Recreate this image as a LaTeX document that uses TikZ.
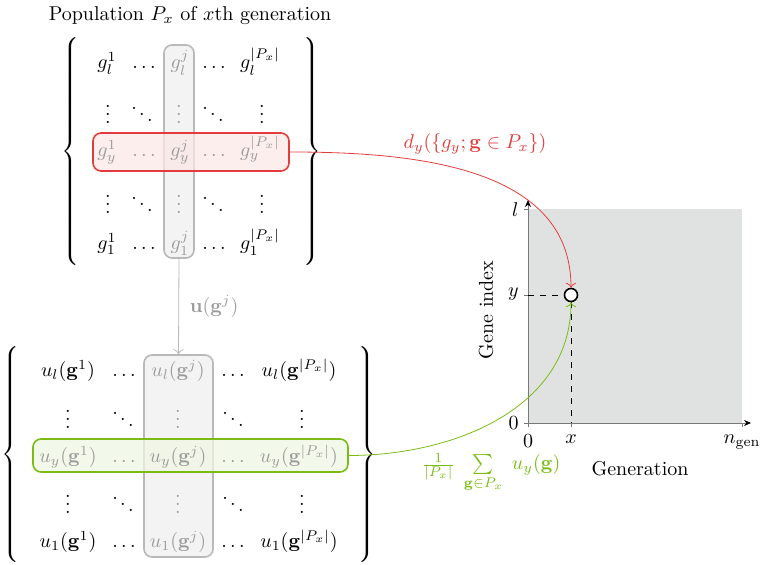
\documentclass[tikz,border=0pt]{standalone}
\usetikzlibrary{arrows.meta}
\definecolor{hlred}{RGB}{228,60,60}
\definecolor{hlgreen}{RGB}{122,188,20}
\definecolor{colline}{RGB}{185,185,185}
\definecolor{colfill}{RGB}{243,243,243}
\definecolor{hltext}{RGB}{155,155,155}
\definecolor{plotfill}{RGB}{224,226,226}
\definecolor{axiscol}{RGB}{120,120,120}
\begin{document}
\begin{tikzpicture}[x=0.5pt,y=-0.5pt,
  ent/.style={anchor=base,inner sep=0pt},
  hl/.style={anchor=base,inner sep=0pt,text=hltext},
  brace/.style={inner sep=0pt},
  colbox/.style={draw=colline,fill=colfill,line width=0.8pt,rounded corners=4pt},
  redbox/.style={draw=hlred,fill=hlred!12,fill opacity=0.75,line width=0.8pt,rounded corners=4pt},
  greenbox/.style={draw=hlgreen,fill=hlgreen!12,fill opacity=0.75,line width=0.8pt,rounded corners=4pt},
  tick/.style={axiscol,line width=0.4pt},
  ticklab/.style={inner sep=0pt}]
\useasboundingbox (0,0) rectangle (760,565);

% ---------- top matrix ----------
\node[ent] (title) at (190,21) {Population $P_x$ of $x$th generation};
\node[colbox,minimum width=15pt,minimum height=106.5pt] (tcol) at (179,151.5) {};
\node[redbox,minimum width=98pt,minimum height=19pt] (trow) at (191,152) {};

\node[brace] (tlb) at (72,152) {$\left\{\vcenter to 118pt{}\right.$};
\node[brace] (trb) at (311,152) {$\left.\vcenter to 118pt{}\right\}$};

\node[ent] (t11) at (107,69) {$g_l^1$};
\node[ent] (t12) at (144,69) {$\ldots$};
\node[hl]  (t13) at (180,69) {$g_l^j$};
\node[ent] (t14) at (214,69) {$\ldots$};
\node[ent] (t15) at (260,69) {$g_l^{|P_x|}$};

\node[ent] (t21) at (108,124) {$\vdots$};
\node[ent] (t22) at (142,124) {$\ddots$};
\node[hl]  (t23) at (179,124) {$\vdots$};
\node[ent] (t24) at (213,124) {$\ddots$};
\node[ent] (t25) at (262,124) {$\vdots$};

\node[hl] (t31) at (107,157) {$g_y^1$};
\node[hl] (t32) at (144,157) {$\ldots$};
\node[hl] (t33) at (180,157) {$g_y^j$};
\node[hl] (t34) at (214,157) {$\ldots$};
\node[hl] (t35) at (260,157) {$g_y^{|P_x|}$};

\node[ent] (t41) at (108,214) {$\vdots$};
\node[ent] (t42) at (142,214) {$\ddots$};
\node[hl]  (t43) at (179,214) {$\vdots$};
\node[ent] (t44) at (213,214) {$\ddots$};
\node[ent] (t45) at (262,214) {$\vdots$};

\node[ent] (t51) at (107,250) {$g_1^1$};
\node[ent] (t52) at (144,250) {$\ldots$};
\node[hl]  (t53) at (180,250) {$g_1^j$};
\node[ent] (t54) at (214,250) {$\ldots$};
\node[ent] (t55) at (260,250) {$g_1^{|P_x|}$};

% ---------- bottom matrix ----------
\node[colbox,minimum width=34.5pt,minimum height=101pt] (bcol) at (178.5,456) {};
\node[greenbox,minimum width=157.5pt,minimum height=16.5pt] (brow) at (190.5,455.5) {};

\node[brace] (blb) at (12,455) {$\left\{\vcenter to 110pt{}\right.$};
\node[brace] (brb) at (366,455) {$\left.\vcenter to 110pt{}\right\}$};

\node[ent] (b11) at (68,377) {$u_l(\mathbf{g}^1)$};
\node[ent] (b12) at (124,377) {$\ldots$};
\node[hl]  (b13) at (178,377) {$u_l(\mathbf{g}^j)$};
\node[ent] (b14) at (233,377) {$\ldots$};
\node[ent] (b15) at (299,377) {$u_l(\mathbf{g}^{|P_x|})$};

\node[ent] (b21) at (68,429) {$\vdots$};
\node[ent] (b22) at (123,429) {$\ddots$};
\node[hl]  (b23) at (178,429) {$\vdots$};
\node[ent] (b24) at (233,429) {$\ddots$};
\node[ent] (b25) at (302,429) {$\vdots$};

\node[hl] (b31) at (68,463) {$u_y(\mathbf{g}^1)$};
\node[hl] (b32) at (124,463) {$\ldots$};
\node[hl] (b33) at (178,463) {$u_y(\mathbf{g}^j)$};
\node[hl] (b34) at (233,463) {$\ldots$};
\node[hl] (b35) at (299,463) {$u_y(\mathbf{g}^{|P_x|})$};

\node[ent] (b41) at (68,514) {$\vdots$};
\node[ent] (b42) at (123,514) {$\ddots$};
\node[hl]  (b43) at (178,514) {$\vdots$};
\node[ent] (b44) at (233,514) {$\ddots$};
\node[ent] (b45) at (302,514) {$\vdots$};

\node[ent] (b51) at (68,548) {$u_1(\mathbf{g}^1)$};
\node[ent] (b52) at (124,548) {$\ldots$};
\node[hl]  (b53) at (178,548) {$u_1(\mathbf{g}^j)$};
\node[ent] (b54) at (233,548) {$\ldots$};
\node[ent] (b55) at (299,548) {$u_1(\mathbf{g}^{|P_x|})$};

% arrow between columns
\draw[colline,->] (tcol.south) -- node[right=2pt,text=hltext] (ulab) {$\mathbf{u}(\mathbf{g}^j)$} (bcol.north);

% ---------- plot ----------
\coordinate (o) at (528,423);
\coordinate (ytop) at (528,200);
\coordinate (xend) at (751,423);
\coordinate (ty) at (528,295);
\coordinate (tx) at (571,423);
\fill[plotfill] (528,209) rectangle (742,423);
\draw[tick] (524,209) -- (528,209);
\draw[tick] (524,295) -- (528,295);
\draw[tick] (524,423) -- (528,423);
\draw[tick] (528,423) -- (528,427);
\draw[tick] (571,423) -- (571,427);
\draw[tick] (742,423) -- (742,427);
\draw[axiscol,-{Stealth[length=3.5pt,width=3pt,black]}] (o) -- (ytop);
\draw[axiscol,-{Stealth[length=3.5pt,width=3pt,black]}] (o) -- (xend);

\node[ticklab,anchor=east] (yl) at (519,210) {$l$};
\node[ticklab,anchor=east] (yy) at (519,294) {$y$};
\node[ticklab,anchor=east] (y0) at (519,423) {$0$};
\node[ticklab,anchor=north] (x0) at (528,434) {$0$};
\node[ticklab,anchor=north] (xx) at (571,434) {$x$};
\node[ticklab,anchor=north] (xn) at (742,434) {$n_{\mathrm{gen}}$};
\node[rotate=90] (ylab) at (486,310) {Gene index};
\node (xlab) at (640,469) {Generation};

\node[circle,draw,line width=0.8pt,fill=white,minimum size=6.5pt,inner sep=0pt] (pt) at (571,295) {};
\draw[dashed] (ty) -- (pt.west);
\draw[dashed] (pt.south) -- (tx);

% connectors
\draw[hlred,->] (trow.east) to[out=0,in=90] (pt.north);
\draw[hlgreen,->] (brow.east) to[out=0,in=-90] (pt.south);
\node[anchor=base,text=hlred] (dlab) at (475,149) {$d_y(\{g_y;\mathbf{g}\in P_x\})$};
\node[anchor=base,text=hlgreen] (slab) at (491,470) {$\frac{1}{|P_x|}\;\sum\limits_{\mathbf{g}\in P_x}\; u_y(\mathbf{g})$};
\end{tikzpicture}
\end{document}
